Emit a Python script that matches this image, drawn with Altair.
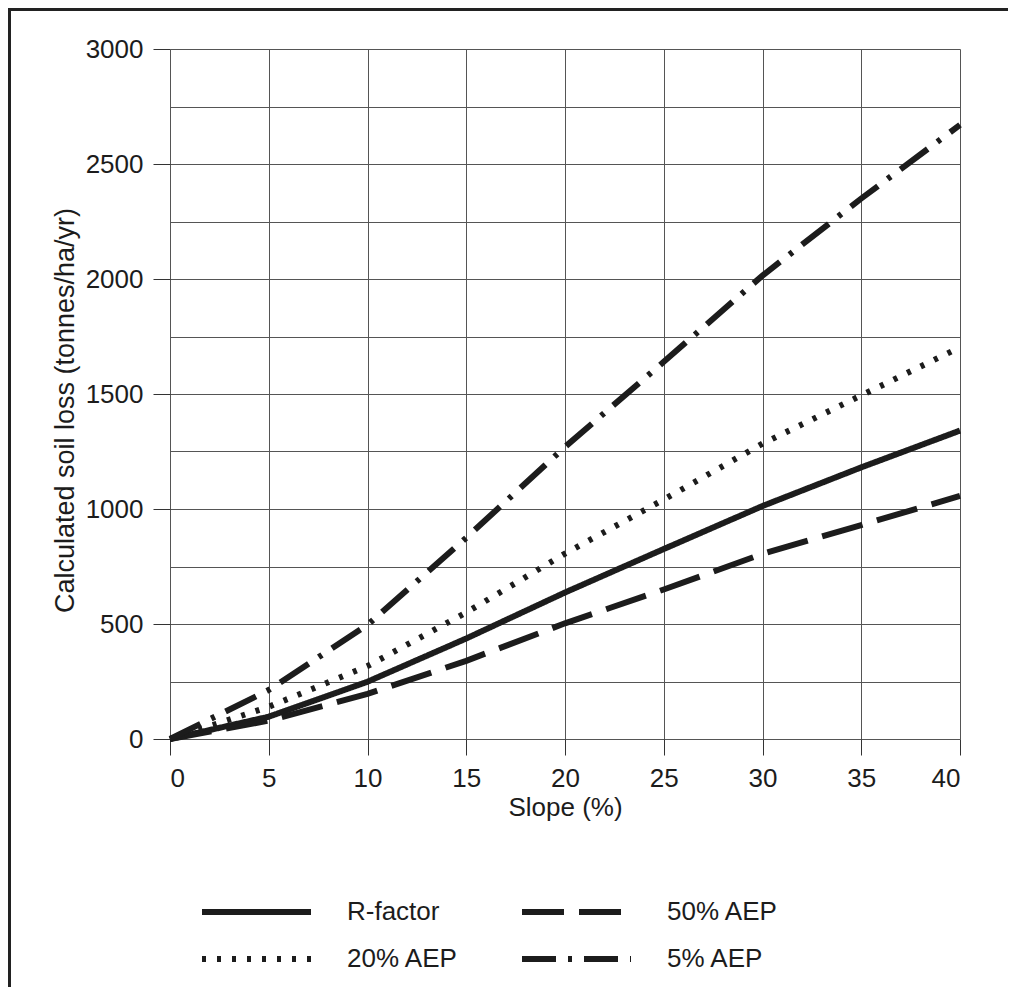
import altair as alt
import pandas as pd

slope = [0, 5, 10, 15, 20, 25, 30, 35, 40]
r_factor = [0, 97, 249, 437, 637, 826, 1013, 1181, 1341]
aep50 = [0, 80, 196, 340, 503, 650, 805, 930, 1057]
aep20 = [0, 140, 317, 550, 806, 1041, 1284, 1494, 1703]
aep5 = [0, 213, 496, 875, 1270, 1640, 2015, 2350, 2670]

series_names = ["R-factor", "50% AEP", "20% AEP", "5% AEP"]
dash_patterns = [[1, 0], [42, 15], [4, 11], [34, 12, 4, 12]]
x_ticks = [0, 5, 10, 15, 20, 25, 30, 35, 40]
y_grid = [0, 250, 500, 750, 1000, 1250, 1500, 1750, 2000, 2250, 2500, 2750, 3000]

rows = []
for name, vals in zip(series_names, [r_factor, aep50, aep20, aep5]):
    for s, v in zip(slope, vals):
        rows.append({"slope": s, "loss": v, "series": name})
df = pd.DataFrame(rows)

FONT = "Liberation Sans"
INK = "#1c1c1c"

lines = alt.Chart(df).mark_line(strokeWidth=6, color=INK, strokeCap="butt").encode(
    x=alt.X(
        "slope:Q",
        scale=alt.Scale(domain=[0, 40], nice=False),
        axis=alt.Axis(values=x_ticks, title="Slope (%)", tickSize=16, labelPadding=10,
                      titlePadding=3),
    ),
    y=alt.Y(
        "loss:Q",
        scale=alt.Scale(domain=[0, 3000], nice=False),
        axis=alt.Axis(
            values=y_grid,
            format="d",
            title="Calculated soil loss (tonnes/ha/yr)",
            labelExpr="datum.value % 500 == 0 ? datum.label : ''",
            tickOpacity={"condition": {"test": "datum.value % 500 != 0", "value": 0}, "value": 1},
            tickSize=17,
            labelPadding=10,
            titlePadding=6,
            titleFontSize=27,
            titleY=361,
        ),
    ),
    strokeDash=alt.StrokeDash(
        "series:N",
        scale=alt.Scale(domain=series_names, range=dash_patterns),
        legend=alt.Legend(
            title=None,
            orient="none",
            legendX=29,
            legendY=852,
            columns=2,
            direction="horizontal",
            symbolType="stroke",
            symbolSize=11881,
            symbolStrokeWidth=6,
            symbolStrokeColor=INK,
            labelFont=FONT,
            labelFontSize=26,
            labelColor=INK,
            labelOffset=33,
            columnPadding=60,
            rowPadding=21,
            clipHeight=22,
            padding=0,
        ),
    ),
)

frame_df = pd.DataFrame({"k": [0]})
frame_left = alt.Chart(frame_df).mark_rule(color="#222", strokeWidth=3).encode(
    x=alt.value(-160.5), y=alt.value(-41), y2=alt.value(960)
)
frame_top = alt.Chart(frame_df).mark_rule(color="#222", strokeWidth=3).encode(
    x=alt.value(-162), x2=alt.value(860), y=alt.value(-39.5)
)

chart = alt.layer(lines, frame_left, frame_top).properties(
    width=790,
    height=690,
    padding={"left": 162, "top": 41, "right": 48, "bottom": 248},
    autosize=alt.AutoSizeParams(type="none"),
    background="white",
).configure_view(stroke="transparent").configure_axis(
    domain=False,
    grid=True,
    gridColor="#555",
    gridWidth=1,
    tickColor="#333",
    tickWidth=1,
    labelFont=FONT,
    labelFontSize=26,
    labelColor=INK,
    titleFont=FONT,
    titleFontSize=26,
    titleFontWeight="normal",
    titleColor=INK,
)

chart.save("out.html", embed_options={"renderer": "svg", "actions": False})
